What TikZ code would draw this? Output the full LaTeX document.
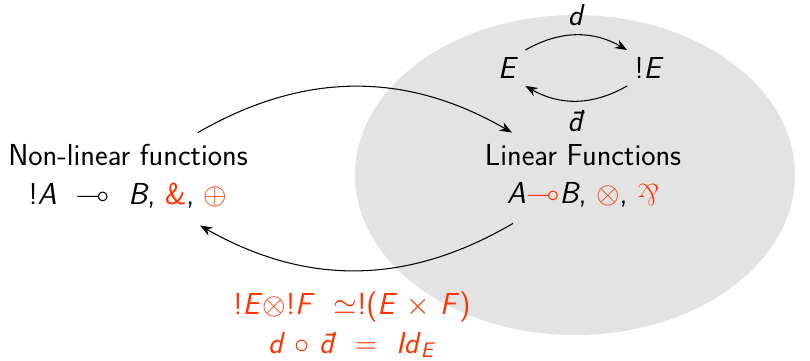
\documentclass[tikz,border=0pt]{standalone}
\usepackage{amsmath, amssymb}
\usepackage{graphicx}
\usepackage{tikz}
\usetikzlibrary{arrows.meta, positioning}
\usepackage{xcolor}
\definecolor{alertred}{HTML}{FF3300}
\definecolor{blobgray}{HTML}{E3E3E3}
\newcommand{\sv}[1]{\textit{#1}}
\newcommand{\al}[1]{\textcolor{alertred}{#1}}
\newcommand{\parrsym}{\raisebox{-0.05em}{\rotatebox[origin=c]{180}{\textrm{\&}}}}

\begin{document}
\begin{tikzpicture}[
    x=0.02cm, y=-0.02cm,
    lbl/.style  = {align=center, font=\LARGE\sffamily, inner sep=3pt},
    obj/.style  = {font=\LARGE\sffamily, inner sep=4pt},
    arr/.style  = {-{Stealth[length=7pt]}, semithick},
  ]
    \useasboundingbox (0,0) rectangle (810,361);

    %% ── Linear world ────────────────────────────────────────────────────────
    \fill[blobgray] (575,175) ellipse [x radius=220, y radius=160];

    %% ── Main nodes ──────────────────────────────────────────────────────────
    \node[lbl] (nl)  at (128,176) {Non-linear functions\\
          !\sv{A} ~$\multimap$~ \sv{B}, \al{\&}, \al{$\oplus$}};
    \node[lbl] (lin) at (583,176) {Linear Functions\\
          \sv{A}\al{$\multimap$}\sv{B}, \al{$\otimes$}, \al{\parrsym}};

    \node[obj] (E)  at (508,68) {\sv{E}};
    \node[obj] (bE) at (649,68) {!\sv{E}};

    %% E <-> !E
    \draw[arr] (E.north east) to[bend left=30]
          node[above=2pt, font=\LARGE\sffamily] (d) {\sv{d}} (bE.north west);
    \draw[arr] (bE.south west) to[bend left=30]
          node[below=2pt, font=\LARGE\sffamily] (dbar) {\sv{\=d}} (E.south east);

    %% Non-linear <-> linear
    \draw[arr] ([shift={(70,-6)}]nl.north) to[bend left=30]
               ([shift={(-71,-6)}]lin.north);
    \draw[arr] ([shift={(-70,10)}]lin.south) to[bend left=30]
               ([shift={(72,12)}]nl.south);

    %% ── Laws ────────────────────────────────────────────────────────────────
    \node[lbl, text=alertred] (laws) at (352,325) {%
          !\sv{E}$\otimes$!\sv{F} ~$\simeq$!(\sv{E} $\times$ \sv{F})\\
          \sv{d} $\circ$ \sv{\=d} ~$=$~ \sv{Id}\textsubscript{\sv{E}}};

\end{tikzpicture}
\end{document}
